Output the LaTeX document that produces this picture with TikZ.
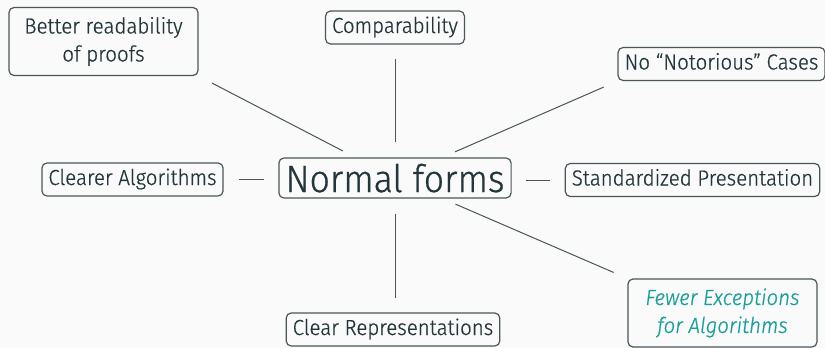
\documentclass[tikz,border=0pt]{standalone}
\usepackage{fontspec}
\setmainfont{Fira Sans}[UprightFont={* Light}, ItalicFont={* Light Italic},
  FakeStretch=0.94, FakeBold=0.7]
\definecolor{bgc}{HTML}{FAFAFA}
\definecolor{fgc}{HTML}{23373B}
\definecolor{boxc}{HTML}{4A5759}
\definecolor{linec}{HTML}{4A5759}
\definecolor{alertc}{HTML}{1A9E9A}
\begin{document}
\begin{tikzpicture}[x=0.5pt, y=-0.5pt,
  idea/.style={draw=boxc, line width=0.6pt, rounded corners=2.5pt,
    inner xsep=3.25pt, inner ysep=2.8pt, text=fgc,
    text height=8.2pt, text depth=2.7pt,
    font=\fontsize{10.9}{14}\selectfont},
  wide/.style={idea, align=center, minimum width=94.5pt, minimum height=34pt,
    text height=, text depth=},
  link/.style={draw=linec, line width=0.5pt, shorten <=7.5pt, shorten >=7pt}]
  \fill[bgc] (0,0) rectangle (825,348);
  \useasboundingbox (0,0) rectangle (825,348);

  % central concept
  \node[idea, inner xsep=3.3pt, inner ysep=3pt, text height=14pt, text depth=0pt,
        font=\fontsize{19}{22}\selectfont] (nf) at (395,178) {Normal forms};

  % surrounding ideas
  \node[wide] (proofs) at (103.5,41.5) {Better readability\\of proofs};
  \node[idea] (comp) at (395,27.5) {Comparability};
  \node[idea] (noto) at (721.5,64) {No “Notorious” Cases};
  \node[idea] (clearer) at (132.5,179.5) {Clearer Algorithms};
  \node[idea] (std) at (692.5,180) {Standardized Presentation};
  \node[idea] (rep) at (393,329.5) {Clear Representations};
  \node[wide, text=alertc, font=\fontsize{10.9}{14}\selectfont\itshape]
       (fewer) at (722.5,313) {Fewer Exceptions\\for Algorithms};

  % connectors
  \draw[link] (proofs.south east) -- (nf);
  \draw[link] (nf) -- (nf |- comp.south);
  \draw[link] (noto.south west) -- (nf);
  \draw[link] (clearer.east) -- (clearer.east -| nf.west);
  \draw[link] (std.west) -- (std.west -| nf.east);
  \draw[link] (nf) -- (nf |- rep.north);
  \draw[link] (fewer.north west) -- (nf);
\end{tikzpicture}
\end{document}
